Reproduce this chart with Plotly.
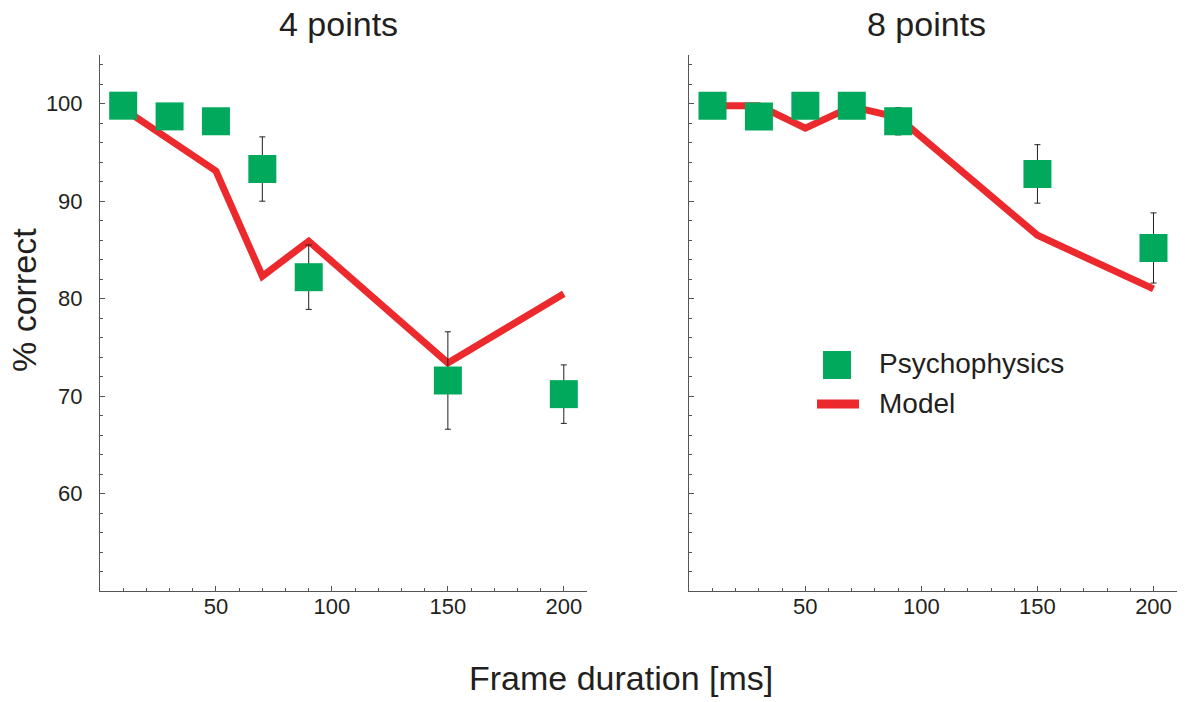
import plotly.graph_objects as go

# ---- data ----
frame_ms = [10, 30, 50, 70, 90, 150, 200]

psy_4 = [99.8, 98.7, 98.2, 93.3, 82.2, 71.6, 70.2]
psy_4_err = [1.0, 1.0, 1.0, 3.3, 3.3, 5.0, 3.0]
model_4 = [99.5, 96.3, 93.1, 82.3, 85.9, 73.4, 80.5]

psy_8 = [99.8, 98.7, 99.8, 99.8, 98.2, 92.8, 85.2]
psy_8_err = [0.5, 0.8, 0.5, 0.5, 1.4, 3.0, 3.6]
model_8 = [99.8, 99.8, 97.5, 99.7, 98.6, 86.5, 81.0]

panel_titles = ["4 points", "8 points"]
x_tickvals = [50, 100, 150, 200]
y_tickvals = [60, 70, 80, 90, 100]

GREEN = "#00A95C"
RED = "#EC2A2E"
INK = "#231f20"
FONT = "Liberation Sans, Arial, sans-serif"

W, H = 1186, 702
fig = go.Figure()

panels = [
    ("x", "y", psy_4, psy_4_err, model_4),
    ("x2", "y2", psy_8, psy_8_err, model_8),
]
for xa, ya, psy, err, model in panels:
    fig.add_trace(go.Scatter(
        x=frame_ms, y=model, mode="lines", xaxis=xa, yaxis=ya,
        line=dict(color=RED, width=7), showlegend=False, name="Model"))
    fig.add_trace(go.Scatter(
        x=frame_ms, y=psy, mode="markers", xaxis=xa, yaxis=ya,
        marker=dict(symbol="square", size=28, color=GREEN, line=dict(width=0)),
        error_y=dict(type="data", array=err, visible=True, color=INK,
                     thickness=1, width=3),
        showlegend=False, name="Psychophysics"))

xd1 = [100 / W, 587 / W]
xd2 = [689.3 / W, 1176.7 / W]
yd = [1 - 591 / H, 1 - 55 / H]

axis_common = dict(showline=True, linecolor="#555555", linewidth=1, mirror=False,
                   showgrid=False, zeroline=False, ticks="inside",
                   tickcolor="#555555", tickwidth=1,
                   tickfont=dict(family=FONT, size=22, color=INK))

xaxis_common = dict(axis_common, range=[0, 210], tickmode="array",
                    tickvals=x_tickvals, ticklen=5, ticklabelstandoff=-4,
                    minor=dict(dtick=10, tick0=0, ticks="inside", ticklen=3,
                               tickcolor="#555555", showgrid=False))
yaxis_common = dict(axis_common, range=[50, 105], tickmode="array",
                    tickvals=y_tickvals, ticklen=5,
                    minor=dict(dtick=2, tick0=50, ticks="inside", ticklen=3,
                               tickcolor="#555555", showgrid=False))

fig.update_layout(
    width=W, height=H, autosize=False,
    margin=dict(l=0, r=0, t=0, b=0),
    paper_bgcolor="white", plot_bgcolor="white",
    font=dict(family=FONT, color=INK),
    showlegend=False,
    xaxis=dict(xaxis_common, domain=xd1, anchor="y"),
    yaxis=dict(yaxis_common, domain=yd, anchor="x", ticklabelstandoff=12),
    xaxis2=dict(xaxis_common, domain=xd2, anchor="y2"),
    yaxis2=dict(yaxis_common, domain=yd, anchor="x2", showticklabels=False),
)

TITLE_SIZE = 34
annotations = [
    dict(text=panel_titles[0], x=338 / W, y=1 - 24 / H, xref="paper", yref="paper",
         showarrow=False, font=dict(family=FONT, size=TITLE_SIZE, color=INK),
         xanchor="center", yanchor="middle"),
    dict(text=panel_titles[1], x=926 / W, y=1 - 24 / H, xref="paper", yref="paper",
         showarrow=False, font=dict(family=FONT, size=TITLE_SIZE, color=INK),
         xanchor="center", yanchor="middle"),
    dict(text="Frame duration [ms]", x=621 / W, y=1 - 678 / H, xref="paper",
         yref="paper", showarrow=False,
         font=dict(family=FONT, size=TITLE_SIZE, color=INK),
         xanchor="center", yanchor="middle"),
    dict(text="% correct", x=24 / W, y=1 - 300 / H, xref="paper", yref="paper",
         showarrow=False, textangle=-90,
         font=dict(family=FONT, size=TITLE_SIZE, color=INK),
         xanchor="center", yanchor="middle"),
    # legend labels
    dict(text="Psychophysics", x=877 / W, y=1 - 363 / H, xref="paper", yref="paper",
         showarrow=False, font=dict(family=FONT, size=28, color=INK),
         xanchor="left", yanchor="middle"),
    dict(text="Model", x=877 / W, y=1 - 403 / H, xref="paper", yref="paper",
         showarrow=False, font=dict(family=FONT, size=28, color=INK),
         xanchor="left", yanchor="middle"),
]
fig.update_layout(annotations=annotations)

# legend symbols (paper coordinates)
fig.add_shape(type="rect", xref="paper", yref="paper",
              x0=823 / W, x1=851 / W, y0=1 - 379 / H, y1=1 - 351 / H,
              fillcolor=GREEN, line=dict(width=0))
fig.add_shape(type="line", xref="paper", yref="paper",
              x0=817 / W, x1=859 / W, y0=1 - 404 / H, y1=1 - 404 / H,
              line=dict(color=RED, width=9))

fig.write_html("out.html")
